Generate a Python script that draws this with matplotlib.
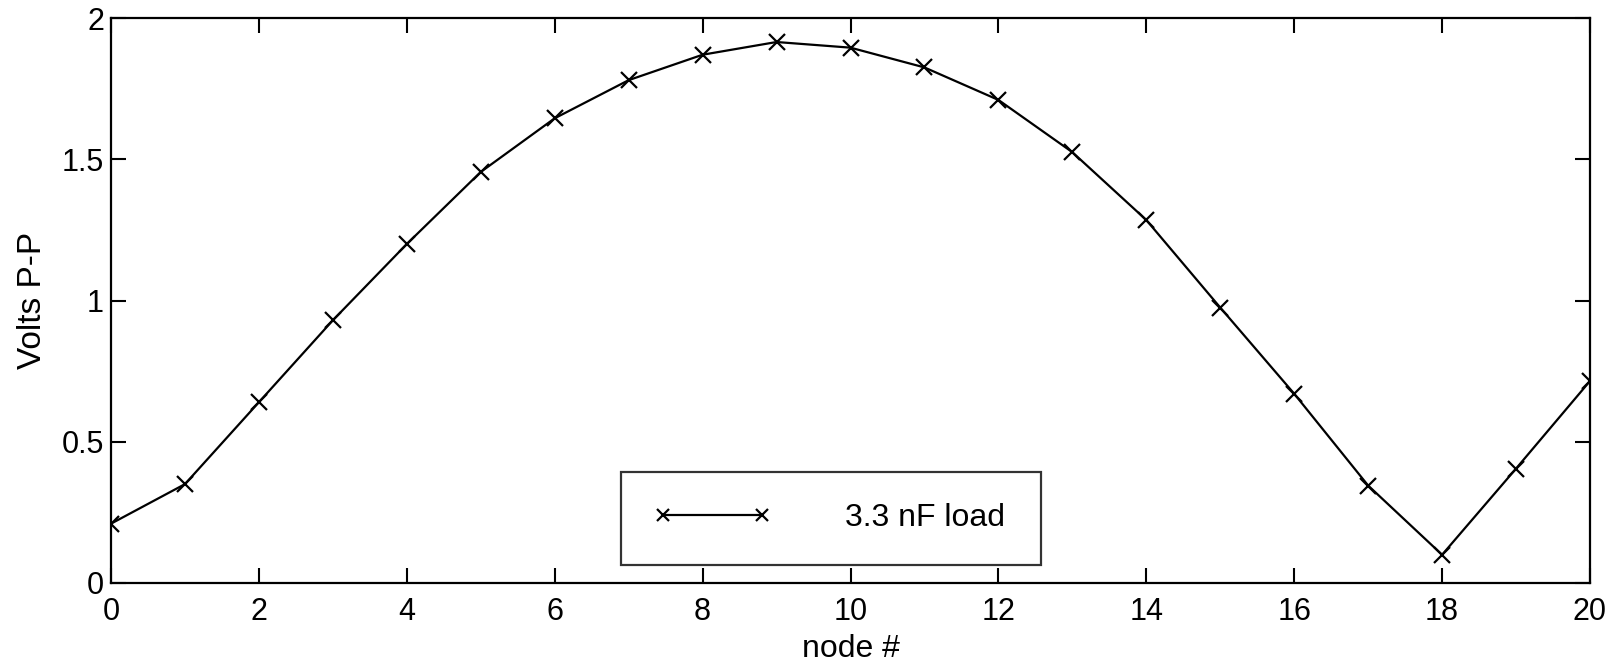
import matplotlib.pyplot as plt
import numpy as np

plt.rcParams['font.family'] = ['Liberation Sans', 'DejaVu Sans']

# peak-to-peak voltage along the line, one value per node
nodes = np.arange(0, 21)
volts_pp = [0.21, 0.35, 0.64, 0.93, 1.20, 1.455, 1.645, 1.78, 1.87, 1.915,
            1.895, 1.825, 1.71, 1.525, 1.285, 0.975, 0.67, 0.345, 0.10, 0.405,
            0.715]
x_ticks = [0, 2, 4, 6, 8, 10, 12, 14, 16, 18, 20]
y_ticks = [0, 0.5, 1, 1.5, 2]
y_tick_labels = ["0", "0.5", "1", "1.5", "2"]

fig = plt.figure(figsize=(16.21, 6.68), dpi=100)
ax = fig.add_axes([111 / 1621, 1 - 583 / 668, (1590 - 111) / 1621, (583 - 18) / 668])

ax.plot(nodes, volts_pp, color="black", linewidth=1.6, marker="x",
        markersize=11, markeredgewidth=1.6, label="3.3 nF load")

ax.set_xlim(0, 20)
ax.set_ylim(0, 2)
ax.set_xticks(x_ticks)
ax.set_yticks(y_ticks)
ax.set_yticklabels(y_tick_labels)
ax.tick_params(direction="in", length=11, width=1.5, top=True, right=True,
               labelsize=22)
ax.tick_params(axis="x", pad=10)
ax.tick_params(axis="y", pad=5)
for side in ax.spines.values():
    side.set_linewidth(1.6)

ax.set_xlabel("node #", fontsize=23, labelpad=5)
ax.set_ylabel("Volts P-P", fontsize=24, labelpad=10)

leg = ax.legend(loc="center left", bbox_to_anchor=(621 / 1621, 1 - 566 / 668,
                                                  (1041 - 621) / 1621, (566 - 471) / 668),
                bbox_transform=fig.transFigure, mode="expand", fontsize=23,
                numpoints=2, markerscale=0.8, handlelength=3.7,
                handletextpad=2.3, borderpad=1.0, borderaxespad=0,
                fancybox=False, frameon=True)
leg.get_frame().set_edgecolor("black")
leg.get_frame().set_linewidth(1.6)

fig.savefig("out.png", dpi=100)
